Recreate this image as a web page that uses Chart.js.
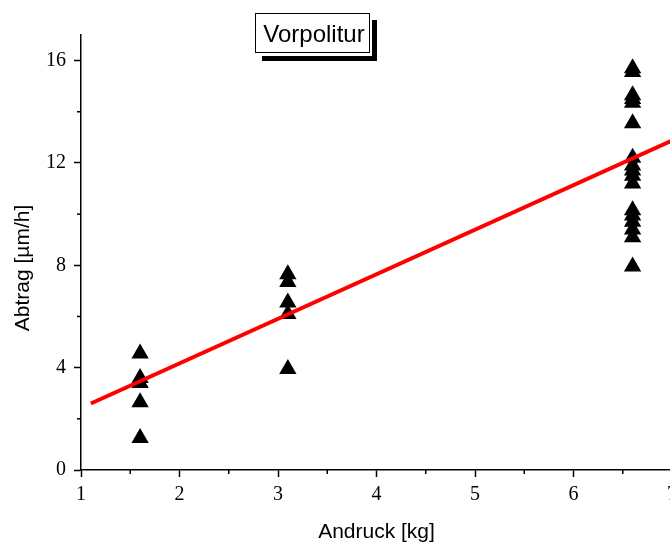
<!DOCTYPE html>
<html>
<head>
<meta charset="utf-8">
<script src="https://cdn.jsdelivr.net/npm/chart.js@4.4.1/dist/chart.umd.min.js"></script>
<style>
    html, body { margin: 0; padding: 0; overflow: hidden; background: #fff; }
</style>
</head>
<body>
<canvas id="myChart" width="690" height="542"></canvas>
<script>
// Andruck-Stufen und gemessener Abtrag
const andruckLow = 1.6;
const andruckMid = 3.1;
const andruckHigh = 6.6;
const abtragLow = [4.55, 3.6, 3.4, 2.65, 1.25];
const abtragMid = [7.65, 7.35, 6.55, 6.1, 3.95];
const abtragHigh = [15.7, 15.55, 14.65, 14.5, 14.35, 13.55, 12.2, 11.9, 11.7, 11.5, 11.2, 10.15, 9.95, 9.7, 9.4, 9.1, 7.95];

// Regressionsgerade (Anfang und Ende)
const fitX = [1.1, 7.0];
const fitY = [2.6, 12.87];

const xTicks = [1, 2, 3, 4, 5, 6, 7];
const yTicks = [0, 4, 8, 12, 16];

const titleText = 'Vorpolitur';
const yTitle = 'Abtrag [µm/h]';
const xTitle = 'Andruck [kg]';

const points = [];
abtragLow.forEach(v => points.push({ x: andruckLow, y: v }));
abtragMid.forEach(v => points.push({ x: andruckMid, y: v }));
abtragHigh.forEach(v => points.push({ x: andruckHigh, y: v }));

const fitLine = fitX.map((x, i) => ({ x: x, y: fitY[i] }));

const sansFont = '"Liberation Sans", Arial, sans-serif';
const serifFont = '"Liberation Serif", "Times New Roman", serif';

// kleine Striche, y-Achsentitel und Titelkasten
const extras = {
    id: 'extras',
    afterDraw(chart) {
        const ctx = chart.ctx;
        const xs = chart.scales.x;
        const ys = chart.scales.y;
        const area = chart.chartArea;
        ctx.save();
        ctx.strokeStyle = '#000';
        ctx.lineWidth = 1.5;
        for (let i = 0; i < xTicks.length - 1; i++) {
            const px = xs.getPixelForValue(xTicks[i] + 0.5);
            ctx.beginPath();
            ctx.moveTo(px, area.bottom);
            ctx.lineTo(px, area.bottom + 4);
            ctx.stroke();
        }
        for (let i = 0; i < yTicks.length; i++) {
            const py = ys.getPixelForValue(yTicks[i] + 2);
            if (py < area.top) continue;
            ctx.beginPath();
            ctx.moveTo(area.left, py);
            ctx.lineTo(area.left - 4, py);
            ctx.stroke();
        }

        // y-Titel (etwas unter der Mitte wie im Original)
        ctx.fillStyle = '#000';
        ctx.font = '21px ' + sansFont;
        ctx.textAlign = 'center';
        ctx.textBaseline = 'middle';
        ctx.translate(23, 268);
        ctx.rotate(-Math.PI / 2);
        ctx.fillText(yTitle, 0, 0);
        ctx.setTransform(1, 0, 0, 1, 0, 0);

        // Titel mit Schatten
        ctx.fillStyle = '#000';
        ctx.fillRect(372, 20, 5, 41);
        ctx.fillRect(262, 56, 115, 5);
        ctx.fillStyle = '#fff';
        ctx.fillRect(255, 13, 115, 40);
        ctx.strokeStyle = '#000';
        ctx.lineWidth = 1;
        ctx.strokeRect(255.5, 13.5, 114, 39);
        ctx.fillStyle = '#000';
        ctx.font = '24px ' + sansFont;
        ctx.fillText(titleText, 314, 35);
        ctx.restore();
    }
};

const ctx = document.getElementById('myChart');

const myChart = new Chart(ctx, {
    type: 'scatter',
    data: {
        datasets: [
            {
                type: 'line',
                data: fitLine,
                borderColor: '#ff0000',
                borderWidth: 4,
                pointRadius: 0,
                fill: false
            },
            {
                data: points,
                pointStyle: 'triangle',
                pointRadius: 10,
                pointHoverRadius: 10,
                backgroundColor: '#000',
                borderColor: '#000',
                borderWidth: 0
            }
        ]
    },
    plugins: [extras],
    options: {
        responsive: false,
        animation: false,
        layout: {
            padding: { top: 35, right: 18, left: 0, bottom: 0 }
        },
        plugins: {
            legend: { display: false },
            tooltip: { enabled: false }
        },
        scales: {
            x: {
                type: 'linear',
                min: 1,
                max: 7,
                afterBuildTicks: scale => {
                    scale.ticks = xTicks.map(v => ({ value: v }));
                },
                afterFit: scale => { scale.height = 72; },
                border: { display: true, color: '#000', width: 1.5 },
                grid: {
                    drawOnChartArea: false,
                    drawTicks: true,
                    tickLength: 7,
                    tickColor: '#000',
                    tickWidth: 1.5
                },
                ticks: {
                    color: '#000',
                    padding: 6,
                    maxRotation: 0,
                    font: { family: serifFont, size: 20 }
                },
                title: {
                    display: true,
                    text: xTitle,
                    color: '#000',
                    padding: { top: 0, bottom: -3 },
                    font: { family: sansFont, size: 21 }
                }
            },
            y: {
                type: 'linear',
                min: 0,
                max: 17,
                afterBuildTicks: scale => {
                    scale.ticks = yTicks.map(v => ({ value: v }));
                },
                afterFit: scale => { scale.width = 81; },
                border: { display: true, color: '#000', width: 1.5 },
                grid: {
                    drawOnChartArea: false,
                    drawTicks: true,
                    tickLength: 7,
                    tickColor: '#000',
                    tickWidth: 1.5
                },
                ticks: {
                    color: '#000',
                    padding: 8,
                    font: { family: serifFont, size: 20 }
                },
                title: { display: false }
            }
        }
    }
});
</script>
</body>
</html>
